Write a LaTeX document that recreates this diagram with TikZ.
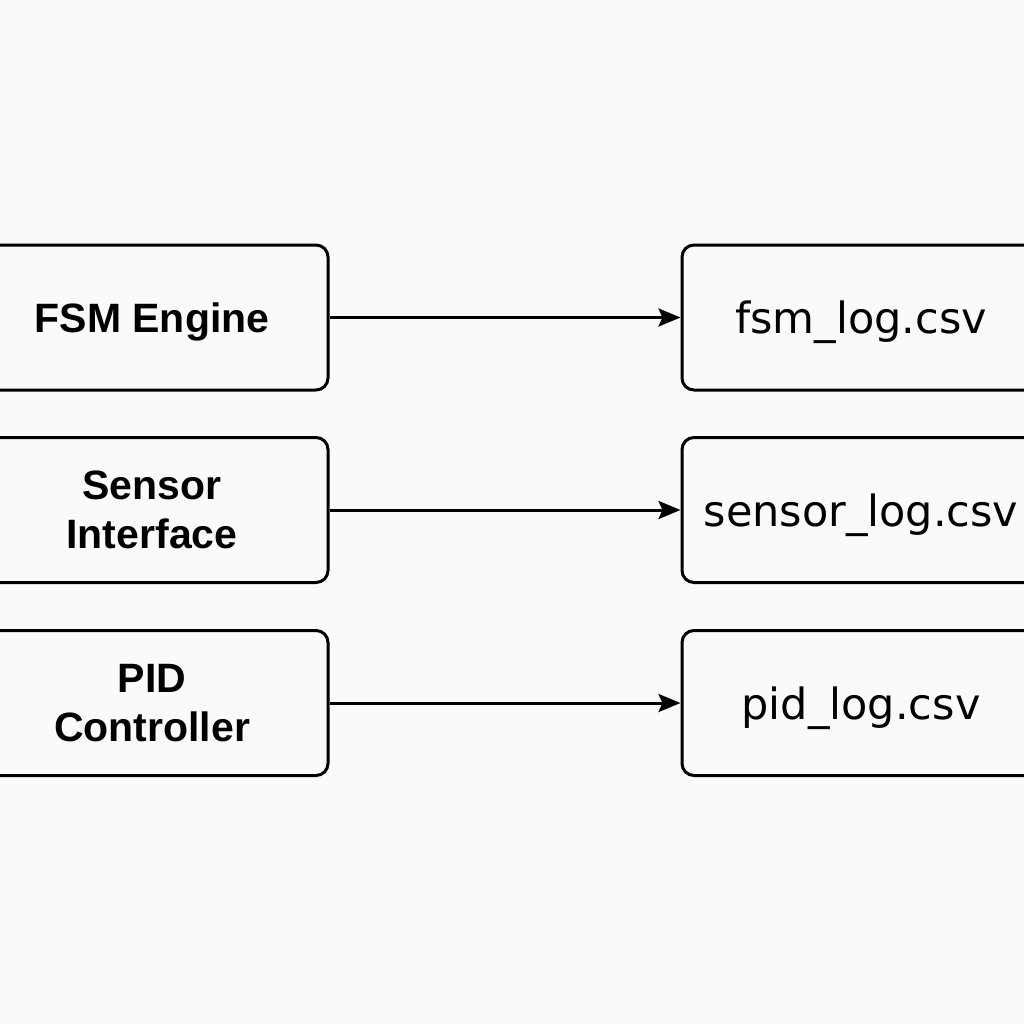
\documentclass[tikz,border=0pt]{standalone}
\usepackage{fontspec}
\setmainfont{Liberation Sans}
\newfontfamily\filefont{DejaVu Sans}
\usetikzlibrary{arrows.meta}
\begin{document}
\begin{tikzpicture}[x=1pt,y=-1pt,
  srcbox/.style={draw=black, line width=3pt, rounded corners=12pt, minimum width=352pt, minimum height=145pt, inner sep=0pt, align=center, font=\bfseries\fontsize{41}{49}\selectfont},
  filebox/.style={draw=black, line width=3pt, rounded corners=12pt, minimum width=358pt, minimum height=145pt, inner sep=0pt, align=center, text depth=0pt, font=\filefont\fontsize{43}{49}\selectfont},
  conn/.style={line width=3pt, -{Stealth[length=22pt,width=18pt,inset=4pt]}}]
\useasboundingbox (0,0) rectangle (1024,1024);
\fill[white!98!black] (0,0) rectangle (1024,1024);
\clip (0,0) rectangle (1024,1024);
\node[srcbox, text depth=0pt] (fsm) at (152,317.5) {FSM Engine};
\node[srcbox] (sensor) at (152,510) {Sensor\\Interface};
\node[srcbox] (pid) at (152,703) {PID\\Controller};
\node[filebox] (fsmlog) at (861,317.5) {fsm\_log.csv};
\node[filebox] (sensorlog) at (861,510) {sensor\_log.csv};
\node[filebox] (pidlog) at (861,703) {pid\_log.csv};
\draw[conn] (fsm) -- (fsmlog);
\draw[conn] (sensor) -- (sensorlog);
\draw[conn] (pid) -- (pidlog);
\end{tikzpicture}
\end{document}
